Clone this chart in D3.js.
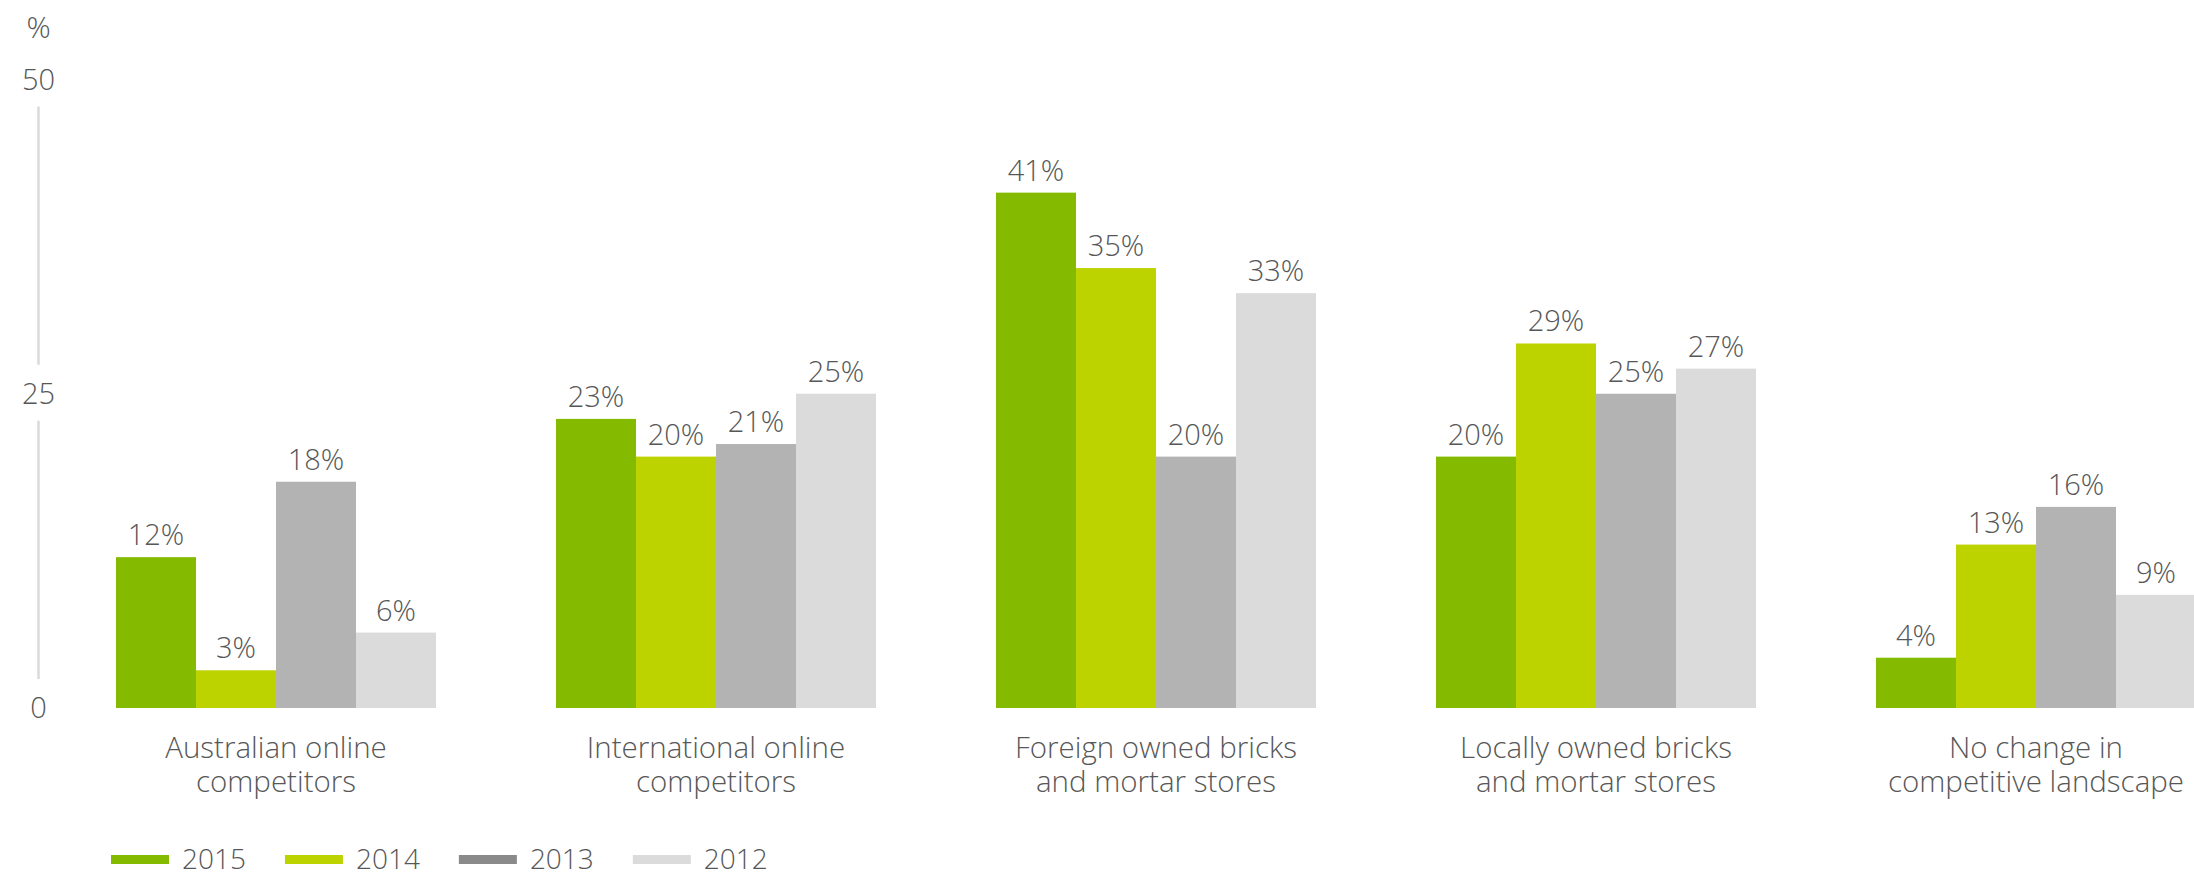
<!DOCTYPE html>
<html>
<head>
<meta charset="utf-8">
<script src="https://cdn.jsdelivr.net/npm/d3@7"></script>
<style>
  html, body { margin: 0; padding: 0; background: #ffffff; overflow: hidden; }
  svg { display: block; }
  text { font-family: "Open Sans", "Noto Sans", sans-serif; font-weight: 300; fill: #575757; }
</style>
</head>
<body>
<svg id="chart" width="2194" height="878"></svg>
<script>
// Competitive threats by year (% of respondents)
const categories = [
  ["Australian online", "competitors"],
  ["International online", "competitors"],
  ["Foreign owned bricks", "and mortar stores"],
  ["Locally owned bricks", "and mortar stores"],
  ["No change in", "competitive landscape"]
];
const years = ["2015", "2014", "2013", "2012"];
const values2015 = [12, 23, 41, 20, 4];
const values2014 = [3, 20, 35, 29, 13];
const values2013 = [18, 21, 20, 25, 16];
const values2012 = [6, 25, 33, 27, 9];
const yTicks = [0, 25, 50];
const yUnit = "%";

const series = [values2015, values2014, values2013, values2012];
const barColors = ["#84bb00", "#bdd300", "#b3b3b3", "#dbdbdb"];
const legendColors = ["#84bb00", "#bdd300", "#8a8a8a", "#dbdbdb"];

const svg = d3.select("#chart");

const x0 = d3.scaleBand()
  .domain(d3.range(categories.length))
  .range([56, 2256])
  .paddingInner(120 / 440)
  .paddingOuter(60 / 440);

const x1 = d3.scaleBand()
  .domain(d3.range(years.length))
  .range([0, x0.bandwidth()])
  .padding(0);

const y = d3.scaleLinear().domain([0, 50]).range([708, 79.5]);

// Y axis: tick labels with a light rule broken around each label
const axisX = 38.5;
const axisG = svg.append("g");
axisG.selectAll("text.tick")
  .data(yTicks)
  .join("text")
  .attr("class", "tick")
  .attr("x", axisX)
  .attr("y", d => y(d))
  .attr("dy", "0.36em")
  .attr("text-anchor", "middle")
  .style("font-size", "29px")
  .text(d => d);

const segs = d3.pairs(yTicks.slice().sort((a, b) => b - a));
axisG.selectAll("line")
  .data(segs)
  .join("line")
  .attr("x1", axisX).attr("x2", axisX)
  .attr("y1", d => y(d[0]) + 27)
  .attr("y2", d => y(d[1]) - 29)
  .attr("stroke", "#dadada")
  .attr("stroke-width", 2.5);

axisG.append("text")
  .attr("x", axisX)
  .attr("y", y(50) - 52)
  .attr("dy", "0.36em")
  .attr("text-anchor", "middle")
  .style("font-size", "30px")
  .text(yUnit);

// Bars and value labels
const groups = svg.append("g")
  .selectAll("g")
  .data(categories)
  .join("g")
  .attr("transform", (d, i) => `translate(${x0(i)},0)`);

groups.each(function (cat, ci) {
  const g = d3.select(this);
  const rows = years.map((yr, si) => ({ si, v: series[si][ci] }));
  g.selectAll("rect")
    .data(rows)
    .join("rect")
    .attr("x", d => x1(d.si))
    .attr("y", d => y(d.v))
    .attr("width", x1.bandwidth())
    .attr("height", d => y(0) - y(d.v))
    .attr("fill", d => barColors[d.si]);
  g.selectAll("text.val")
    .data(rows)
    .join("text")
    .attr("class", "val")
    .attr("x", d => x1(d.si) + x1.bandwidth() / 2)
    .attr("y", d => y(d.v) - 12)
    .attr("text-anchor", "middle")
    .style("font-size", "29px")
    .text(d => d.v + "%");
  const lab = g.append("text")
    .attr("text-anchor", "middle")
    .style("font-size", "29.5px");
  cat.forEach((line, li) => {
    lab.append("tspan")
      .attr("x", x0.bandwidth() / 2)
      .attr("y", 758 + li * 34)
      .text(line);
  });
});

// Legend
const legend = svg.append("g");
let lx = 111;
years.forEach((yr, i) => {
  legend.append("rect")
    .attr("x", lx).attr("y", 855)
    .attr("width", 58).attr("height", 9)
    .attr("fill", legendColors[i]);
  const t = legend.append("text")
    .attr("x", lx + 71).attr("y", 869)
    .style("font-size", "28px")
    .text(yr);
  lx += 71 + t.node().getComputedTextLength() + 39;
});
</script>
</body>
</html>
